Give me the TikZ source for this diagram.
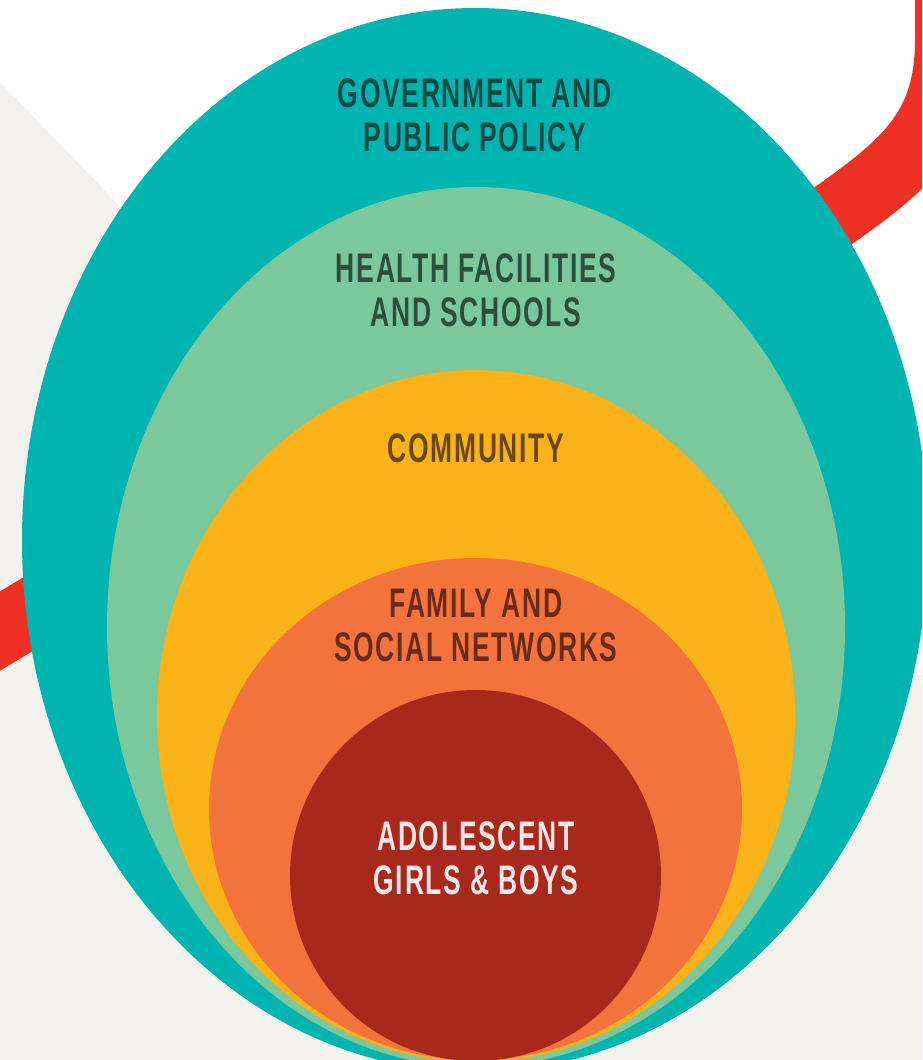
\documentclass[tikz,border=0pt]{standalone}
\usepackage{fontspec}
\newfontfamily\oswfont{Liberation Sans}[FakeStretch=0.64, LetterSpace=4]
\definecolor{bggrey}{HTML}{F2F1EE}
\definecolor{bandred}{HTML}{EE3124}
\definecolor{cteal}{HTML}{00B5B0}
\definecolor{cgreen}{HTML}{7BC89C}
\definecolor{cyellow}{HTML}{F9B319}
\definecolor{corange}{HTML}{F2743C}
\definecolor{cdred}{HTML}{A8281C}
\definecolor{tteal}{HTML}{0E4A47}
\definecolor{tgreen}{HTML}{2C4F3C}
\definecolor{tyellow}{HTML}{6A480B}
\definecolor{torange}{HTML}{6B2A16}
\definecolor{tdred}{HTML}{F7E7E7}
\tikzset{
  lvl/.style={font=\oswfont\bfseries\fontsize{31}{33}\selectfont, align=center, inner sep=0pt, anchor=center},
}
\begin{document}
\begin{tikzpicture}[x=0.75pt,y=-0.75pt]
\useasboundingbox (0,0) rectangle (922,1060);
\clip (0,0) rectangle (922,1060);
\fill[white] (0,0) rectangle (922,1060);
% grey background
\fill[bggrey] (0,82) -- (480,580) -- (480,675) -- (922,675) -- (922,1060) -- (0,1060) -- cycle;
% red band
\draw[bandred, line width=51pt, line join=round]
  (949,-20) -- (949,40) .. controls (949,130) and (905,165) .. (830,218)
  -- (475,346) -- (-30,649);
% nested ellipses
\fill[cteal]   (475,540) ellipse [x radius=453, y radius=532];
\fill[cgreen]  (476,627) ellipse [x radius=369, y radius=440];
\fill[cyellow] (476,716) ellipse [x radius=319, y radius=346];
\fill[corange] (475.5,809) ellipse [x radius=266.5, y radius=251];
\fill[cdred]   (475.5,875.5) circle [radius=185.5];
% labels
\node[lvl, text=tteal]   (gov)  at (475,115)   {GOVERNMENT AND\\PUBLIC POLICY};
\node[lvl, text=tgreen]  (hlth) at (476,290)   {HEALTH FACILITIES\\AND SCHOOLS};
\node[lvl, text=tyellow] (comm) at (476,448)   {COMMUNITY};
\node[lvl, text=torange] (fam)  at (476,625)   {FAMILY AND\\SOCIAL NETWORKS};
\node[lvl, text=tdred]   (adol) at (476,858.5) {ADOLESCENT\\GIRLS \& BOYS};
\end{tikzpicture}
\end{document}
